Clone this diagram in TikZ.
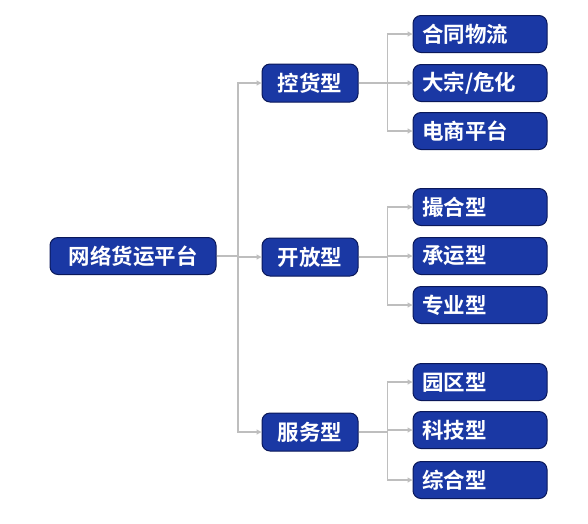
\documentclass[tikz,border=0pt]{standalone}
\usepackage{fontspec}
\newfontfamily\cjk{Noto Sans CJK SC}[BoldFont={Noto Sans CJK SC Bold}]
\usetikzlibrary{arrows.meta}
\definecolor{boxfill}{RGB}{26,56,164}
\definecolor{boxline}{RGB}{10,24,90}
\definecolor{conn}{RGB}{190,190,190}
\begin{document}
\begin{tikzpicture}[x=1pt,y=-1pt,
  box/.style={draw=boxline,line width=1pt,fill=boxfill,rounded corners=8pt,text=white,
    font=\cjk\bfseries\fontsize{21.5}{23}\selectfont,inner sep=0pt},
  rootbox/.style={box,minimum width=166pt,minimum height=37pt},
  midbox/.style={box,minimum width=96pt,minimum height=38pt},
  leafbox/.style={box,minimum width=134pt,minimum height=37pt,text width=116pt,align=left},
  conn/.style={draw=conn,line width=1.2pt},
  arr/.style={conn,-{Triangle[length=5pt,width=5pt]}}
]
\useasboundingbox (0,0) rectangle (588,523);
\node[rootbox] (root) at (133,256) {网络货运平台};
\node[midbox] (m1) at (310,83) {控货型};
\node[midbox] (m2) at (310,257) {开放型};
\node[midbox] (m3) at (310,432) {服务型};
\node[leafbox] (l11) at (480,34) {合同物流};
\node[leafbox] (l12) at (480,83) {大宗/危化};
\node[leafbox] (l13) at (480,131) {电商平台};
\node[leafbox] (l21) at (480,207) {撮合型};
\node[leafbox] (l22) at (480,256) {承运型};
\node[leafbox] (l23) at (480,305) {专业型};
\node[leafbox] (l31) at (480,382) {园区型};
\node[leafbox] (l32) at (480,430) {科技型};
\node[leafbox] (l33) at (480,480) {综合型};
\coordinate (j0) at (238,256);
\draw[conn] (root.east) -- (j0);
\foreach \m in {m1,m2,m3}{
  \draw[arr] (j0) |- (\m.west);
}
\foreach \m/\a/\b/\c in {m1/l11/l12/l13,m2/l21/l22/l23,m3/l31/l32/l33}{
  \coordinate (j\m) at ([xshift=29pt]\m.east);
  \draw[conn] (\m.east) -- (j\m);
  \draw[arr] (j\m) |- (\a.west);
  \draw[arr] (j\m) |- (\b.west);
  \draw[arr] (j\m) |- (\c.west);
}
\end{tikzpicture}
\end{document}
